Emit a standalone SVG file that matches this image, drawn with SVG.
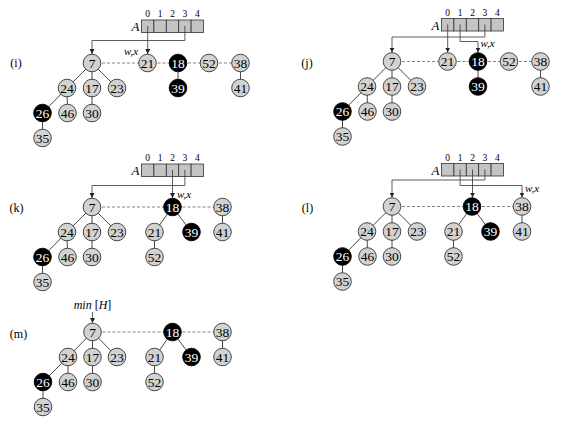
<svg xmlns="http://www.w3.org/2000/svg" width="574" height="425" viewBox="0 0 574 425">
<style>
.bg{fill:#fff}
.g circle{fill:#d2d2d2;stroke:#333;stroke-width:0.9}
.b circle{fill:#000;stroke:#000;stroke-width:0.9}
.g text{fill:#000}
.b text{fill:#fff}
text{font-family:"Liberation Serif","Times New Roman",serif}
.n text{font-size:13.5px;text-anchor:middle}
.lab{font-size:12px;text-anchor:middle}
.idx{font-size:9.5px;text-anchor:middle}
.an{font-size:13px;font-style:italic;text-anchor:end}
.wx{font-size:11px;font-style:italic}
.cell{fill:#c4c4c4;stroke:#333;stroke-width:0.8}
.e{stroke:#333;stroke-width:0.9;fill:none}
.d{stroke:#777;stroke-width:0.9;stroke-dasharray:3 2;fill:none}
.p{stroke:#333;stroke-width:0.8;fill:none;marker-end:url(#ah)}
</style>
<defs>
<marker id="ah" viewBox="0 0 6 6" refX="6" refY="3" markerWidth="5" markerHeight="5" orient="auto" markerUnits="userSpaceOnUse"><path d="M0,0 L6,3 L0,6 z" fill="#222"/></marker>
<g id="arr">
<rect class="cell" x="141.5" y="20" width="12.4" height="12.5"/>
<rect class="cell" x="153.9" y="20" width="12.4" height="12.5"/>
<rect class="cell" x="166.3" y="20" width="12.4" height="12.5"/>
<rect class="cell" x="178.7" y="20" width="12.4" height="12.5"/>
<rect class="cell" x="191.1" y="20" width="12.4" height="12.5"/>
<text class="idx" x="147.7" y="17">0</text>
<text class="idx" x="160.1" y="17">1</text>
<text class="idx" x="172.5" y="17">2</text>
<text class="idx" x="184.9" y="17">3</text>
<text class="idx" x="197.3" y="17">4</text>
<text class="an" x="139.5" y="31">A</text>
</g>
</defs>
<rect class="bg" x="0" y="0" width="574" height="425"/>

<!-- Panel (i) -->
<g id="panel-i">
<text class="lab" x="16" y="67">(i)</text>
<g id="i-array"><use href="#arr"/></g>
<g id="i-connectors">
<line class="d" x1="92" y1="63" x2="147.5" y2="63"/>
<line class="d" x1="147.5" y1="63" x2="178" y2="63"/>
<line class="d" x1="178" y1="63" x2="209" y2="63"/>
<line class="d" x1="209" y1="63" x2="240.5" y2="63"/>
<line class="e" x1="92" y1="63" x2="67" y2="88"/>
<line class="e" x1="92" y1="63" x2="92" y2="88"/>
<line class="e" x1="92" y1="63" x2="117" y2="88"/>
<line class="e" x1="67" y1="88" x2="42.5" y2="113"/>
<line class="e" x1="67" y1="88" x2="67.5" y2="113"/>
<line class="e" x1="92" y1="88" x2="92" y2="113"/>
<line class="e" x1="42.5" y1="113" x2="42.5" y2="138"/>
<line class="e" x1="178" y1="63" x2="178" y2="88"/>
<line class="e" x1="240.5" y1="63" x2="240.5" y2="88"/>
<path class="p" d="M147.7,26 V54"/>
<path class="p" d="M184.9,26 V40.5 H92 V54"/>
</g>
<text class="wx" x="124" y="55">w,x</text>
<g id="i-n7" class="n g"><circle cx="92" cy="63" r="8.8"/><text x="92" y="67.7">7</text></g>
<g id="i-n24" class="n g"><circle cx="67" cy="88" r="8.8"/><text x="67" y="92.7">24</text></g>
<g id="i-n17" class="n g"><circle cx="92" cy="88" r="8.8"/><text x="92" y="92.7">17</text></g>
<g id="i-n23" class="n g"><circle cx="117" cy="88" r="8.8"/><text x="117" y="92.7">23</text></g>
<g id="i-n26" class="n b"><circle cx="42.5" cy="113" r="8.8"/><text x="42.5" y="117.7">26</text></g>
<g id="i-n46" class="n g"><circle cx="67.5" cy="113" r="8.8"/><text x="67.5" y="117.7">46</text></g>
<g id="i-n30" class="n g"><circle cx="92" cy="113" r="8.8"/><text x="92" y="117.7">30</text></g>
<g id="i-n35" class="n g"><circle cx="42.5" cy="138" r="8.8"/><text x="42.5" y="142.7">35</text></g>
<g id="i-n21" class="n g"><circle cx="147.5" cy="63" r="8.8"/><text x="147.5" y="67.7">21</text></g>
<g id="i-n18" class="n b"><circle cx="178" cy="63" r="8.8"/><text x="178" y="67.7">18</text></g>
<g id="i-n52" class="n g"><circle cx="209" cy="63" r="8.8"/><text x="209" y="67.7">52</text></g>
<g id="i-n38" class="n g"><circle cx="240.5" cy="63" r="8.8"/><text x="240.5" y="67.7">38</text></g>
<g id="i-n39" class="n b"><circle cx="178" cy="88" r="8.8"/><text x="178" y="92.7">39</text></g>
<g id="i-n41" class="n g"><circle cx="240.5" cy="88" r="8.8"/><text x="240.5" y="92.7">41</text></g>
</g>

<!-- Panel (j) -->
<g id="panel-j" transform="translate(300,-1.5)">
<text class="lab" x="7" y="68.5">(j)</text>
<g id="j-array"><use href="#arr"/></g>
<g id="j-connectors">
<line class="d" x1="92" y1="63" x2="147.5" y2="63"/>
<line class="d" x1="147.5" y1="63" x2="178" y2="63"/>
<line class="d" x1="178" y1="63" x2="209" y2="63"/>
<line class="d" x1="209" y1="63" x2="240.5" y2="63"/>
<line class="e" x1="92" y1="63" x2="67" y2="88"/>
<line class="e" x1="92" y1="63" x2="92" y2="88"/>
<line class="e" x1="92" y1="63" x2="117" y2="88"/>
<line class="e" x1="67" y1="88" x2="42.5" y2="113"/>
<line class="e" x1="67" y1="88" x2="67.5" y2="113"/>
<line class="e" x1="92" y1="88" x2="92" y2="113"/>
<line class="e" x1="42.5" y1="113" x2="42.5" y2="138"/>
<line class="e" x1="178" y1="63" x2="178" y2="88"/>
<line class="e" x1="240.5" y1="63" x2="240.5" y2="88"/>
<path class="p" d="M147.7,26 V54"/>
<path class="p" d="M184.9,26 V38.5 H92 V54"/>
<path class="p" d="M160.1,26 V43 H178 V54"/>
</g>
<text class="wx" x="180.5" y="48.5">w,x</text>
<g id="j-n7" class="n g"><circle cx="92" cy="63" r="8.8"/><text x="92" y="67.7">7</text></g>
<g id="j-n24" class="n g"><circle cx="67" cy="88" r="8.8"/><text x="67" y="92.7">24</text></g>
<g id="j-n17" class="n g"><circle cx="92" cy="88" r="8.8"/><text x="92" y="92.7">17</text></g>
<g id="j-n23" class="n g"><circle cx="117" cy="88" r="8.8"/><text x="117" y="92.7">23</text></g>
<g id="j-n26" class="n b"><circle cx="42.5" cy="113" r="8.8"/><text x="42.5" y="117.7">26</text></g>
<g id="j-n46" class="n g"><circle cx="67.5" cy="113" r="8.8"/><text x="67.5" y="117.7">46</text></g>
<g id="j-n30" class="n g"><circle cx="92" cy="113" r="8.8"/><text x="92" y="117.7">30</text></g>
<g id="j-n35" class="n g"><circle cx="42.5" cy="138" r="8.8"/><text x="42.5" y="142.7">35</text></g>
<g id="j-n21" class="n g"><circle cx="147.5" cy="63" r="8.8"/><text x="147.5" y="67.7">21</text></g>
<g id="j-n18" class="n b"><circle cx="178" cy="63" r="8.8"/><text x="178" y="67.7">18</text></g>
<g id="j-n52" class="n g"><circle cx="209" cy="63" r="8.8"/><text x="209" y="67.7">52</text></g>
<g id="j-n38" class="n g"><circle cx="240.5" cy="63" r="8.8"/><text x="240.5" y="67.7">38</text></g>
<g id="j-n39" class="n b"><circle cx="178" cy="88" r="8.8"/><text x="178" y="92.7">39</text></g>
<g id="j-n41" class="n g"><circle cx="240.5" cy="88" r="8.8"/><text x="240.5" y="92.7">41</text></g>
</g>

<!-- Panel (k) -->
<g id="panel-k" transform="translate(0,144)">
<text class="lab" x="16.5" y="68">(k)</text>
<g id="k-array"><use href="#arr"/></g>
<g id="k-connectors">
<line class="d" x1="92" y1="63" x2="172.5" y2="63"/>
<line class="d" x1="172.5" y1="63" x2="222.5" y2="63"/>
<line class="e" x1="92" y1="63" x2="67" y2="88"/>
<line class="e" x1="92" y1="63" x2="92" y2="88"/>
<line class="e" x1="92" y1="63" x2="117" y2="88"/>
<line class="e" x1="67" y1="88" x2="42.5" y2="113"/>
<line class="e" x1="67" y1="88" x2="67.5" y2="113"/>
<line class="e" x1="92" y1="88" x2="92" y2="113"/>
<line class="e" x1="42.5" y1="113" x2="42.5" y2="138"/>
<line class="e" x1="172.5" y1="63" x2="154.5" y2="88"/>
<line class="e" x1="172.5" y1="63" x2="191.5" y2="88"/>
<line class="e" x1="154.5" y1="88" x2="154.5" y2="113"/>
<line class="e" x1="222.5" y1="63" x2="222.5" y2="88"/>
<path class="p" d="M172.5,26 V54"/>
<path class="p" d="M184.9,26 V41.5 H92 V54"/>
</g>
<text class="wx" x="177" y="54">w,x</text>
<g id="k-n7" class="n g"><circle cx="92" cy="63" r="8.8"/><text x="92" y="67.7">7</text></g>
<g id="k-n24" class="n g"><circle cx="67" cy="88" r="8.8"/><text x="67" y="92.7">24</text></g>
<g id="k-n17" class="n g"><circle cx="92" cy="88" r="8.8"/><text x="92" y="92.7">17</text></g>
<g id="k-n23" class="n g"><circle cx="117" cy="88" r="8.8"/><text x="117" y="92.7">23</text></g>
<g id="k-n26" class="n b"><circle cx="42.5" cy="113" r="8.8"/><text x="42.5" y="117.7">26</text></g>
<g id="k-n46" class="n g"><circle cx="67.5" cy="113" r="8.8"/><text x="67.5" y="117.7">46</text></g>
<g id="k-n30" class="n g"><circle cx="92" cy="113" r="8.8"/><text x="92" y="117.7">30</text></g>
<g id="k-n35" class="n g"><circle cx="42.5" cy="138" r="8.8"/><text x="42.5" y="142.7">35</text></g>
<g id="k-n18" class="n b"><circle cx="172.5" cy="63" r="8.8"/><text x="172.5" y="67.7">18</text></g>
<g id="k-n38" class="n g"><circle cx="222.5" cy="63" r="8.8"/><text x="222.5" y="67.7">38</text></g>
<g id="k-n21" class="n g"><circle cx="154.5" cy="88" r="8.8"/><text x="154.5" y="92.7">21</text></g>
<g id="k-n39" class="n b"><circle cx="191.5" cy="88" r="8.8"/><text x="191.5" y="92.7">39</text></g>
<g id="k-n41" class="n g"><circle cx="222.5" cy="88" r="8.8"/><text x="222.5" y="92.7">41</text></g>
<g id="k-n52" class="n g"><circle cx="154.5" cy="113" r="8.8"/><text x="154.5" y="117.7">52</text></g>
</g>

<!-- Panel (l) -->
<g id="panel-l" transform="translate(300,143.5)">
<text class="lab" x="7.5" y="68.5">(l)</text>
<g id="l-array"><use href="#arr"/></g>
<g id="l-connectors">
<line class="d" x1="92" y1="63" x2="172" y2="63"/>
<line class="d" x1="172" y1="63" x2="222" y2="63"/>
<line class="e" x1="92" y1="63" x2="67" y2="88"/>
<line class="e" x1="92" y1="63" x2="92" y2="88"/>
<line class="e" x1="92" y1="63" x2="117" y2="88"/>
<line class="e" x1="67" y1="88" x2="42.5" y2="113"/>
<line class="e" x1="67" y1="88" x2="67.5" y2="113"/>
<line class="e" x1="92" y1="88" x2="92" y2="113"/>
<line class="e" x1="42.5" y1="113" x2="42.5" y2="138"/>
<line class="e" x1="172" y1="63" x2="153.5" y2="88"/>
<line class="e" x1="172" y1="63" x2="190.5" y2="88"/>
<line class="e" x1="153.5" y1="88" x2="153.5" y2="113"/>
<line class="e" x1="222" y1="63" x2="222" y2="88"/>
<path class="p" d="M172.5,26 V54"/>
<path class="p" d="M184.9,26 V36.5 H92 V54"/>
<path class="p" d="M160.1,26 V42 H222 V54"/>
</g>
<text class="wx" x="225" y="48.5">w,x</text>
<g id="l-n7" class="n g"><circle cx="92" cy="63" r="8.8"/><text x="92" y="67.7">7</text></g>
<g id="l-n24" class="n g"><circle cx="67" cy="88" r="8.8"/><text x="67" y="92.7">24</text></g>
<g id="l-n17" class="n g"><circle cx="92" cy="88" r="8.8"/><text x="92" y="92.7">17</text></g>
<g id="l-n23" class="n g"><circle cx="117" cy="88" r="8.8"/><text x="117" y="92.7">23</text></g>
<g id="l-n26" class="n b"><circle cx="42.5" cy="113" r="8.8"/><text x="42.5" y="117.7">26</text></g>
<g id="l-n46" class="n g"><circle cx="67.5" cy="113" r="8.8"/><text x="67.5" y="117.7">46</text></g>
<g id="l-n30" class="n g"><circle cx="92" cy="113" r="8.8"/><text x="92" y="117.7">30</text></g>
<g id="l-n35" class="n g"><circle cx="42.5" cy="138" r="8.8"/><text x="42.5" y="142.7">35</text></g>
<g id="l-n18" class="n b"><circle cx="172" cy="63" r="8.8"/><text x="172" y="67.7">18</text></g>
<g id="l-n38" class="n g"><circle cx="222" cy="63" r="8.8"/><text x="222" y="67.7">38</text></g>
<g id="l-n21" class="n g"><circle cx="153.5" cy="88" r="8.8"/><text x="153.5" y="92.7">21</text></g>
<g id="l-n39" class="n b"><circle cx="190.5" cy="88" r="8.8"/><text x="190.5" y="92.7">39</text></g>
<g id="l-n41" class="n g"><circle cx="222" cy="88" r="8.8"/><text x="222" y="92.7">41</text></g>
<g id="l-n52" class="n g"><circle cx="153.5" cy="113" r="8.8"/><text x="153.5" y="117.7">52</text></g>
</g>

<!-- Panel (m) -->
<g id="panel-m" transform="translate(0,269)">
<text class="lab" x="18.5" y="68.5">(m)</text>
<text id="m-minH" x="92.5" y="40" style="font-size:12px;text-anchor:middle"><tspan font-style="italic">min</tspan> [<tspan font-style="italic">H</tspan>]</text>
<g id="m-connectors">
<line class="d" x1="92.5" y1="63" x2="172.5" y2="63"/>
<line class="d" x1="172.5" y1="63" x2="222.5" y2="63"/>
<line class="e" x1="92.5" y1="63" x2="68" y2="88"/>
<line class="e" x1="92.5" y1="63" x2="92.5" y2="88"/>
<line class="e" x1="92.5" y1="63" x2="117" y2="88"/>
<line class="e" x1="68" y1="88" x2="43" y2="113"/>
<line class="e" x1="68" y1="88" x2="68" y2="113"/>
<line class="e" x1="92.5" y1="88" x2="92.5" y2="113"/>
<line class="e" x1="43" y1="113" x2="43" y2="138"/>
<line class="e" x1="172.5" y1="63" x2="154.5" y2="88"/>
<line class="e" x1="172.5" y1="63" x2="191.5" y2="88"/>
<line class="e" x1="154.5" y1="88" x2="154.5" y2="113"/>
<line class="e" x1="222.5" y1="63" x2="222.5" y2="88"/>
<path class="p" d="M92.5,43 V54"/>
</g>
<g id="m-n7" class="n g"><circle cx="92.5" cy="63" r="8.8"/><text x="92.5" y="67.7">7</text></g>
<g id="m-n24" class="n g"><circle cx="68" cy="88" r="8.8"/><text x="68" y="92.7">24</text></g>
<g id="m-n17" class="n g"><circle cx="92.5" cy="88" r="8.8"/><text x="92.5" y="92.7">17</text></g>
<g id="m-n23" class="n g"><circle cx="117" cy="88" r="8.8"/><text x="117" y="92.7">23</text></g>
<g id="m-n26" class="n b"><circle cx="43" cy="113" r="8.8"/><text x="43" y="117.7">26</text></g>
<g id="m-n46" class="n g"><circle cx="68" cy="113" r="8.8"/><text x="68" y="117.7">46</text></g>
<g id="m-n30" class="n g"><circle cx="92.5" cy="113" r="8.8"/><text x="92.5" y="117.7">30</text></g>
<g id="m-n35" class="n g"><circle cx="43" cy="138" r="8.8"/><text x="43" y="142.7">35</text></g>
<g id="m-n18" class="n b"><circle cx="172.5" cy="63" r="8.8"/><text x="172.5" y="67.7">18</text></g>
<g id="m-n38" class="n g"><circle cx="222.5" cy="63" r="8.8"/><text x="222.5" y="67.7">38</text></g>
<g id="m-n21" class="n g"><circle cx="154.5" cy="88" r="8.8"/><text x="154.5" y="92.7">21</text></g>
<g id="m-n39" class="n b"><circle cx="191.5" cy="88" r="8.8"/><text x="191.5" y="92.7">39</text></g>
<g id="m-n41" class="n g"><circle cx="222.5" cy="88" r="8.8"/><text x="222.5" y="92.7">41</text></g>
<g id="m-n52" class="n g"><circle cx="154.5" cy="113" r="8.8"/><text x="154.5" y="117.7">52</text></g>
</g>
</svg>
